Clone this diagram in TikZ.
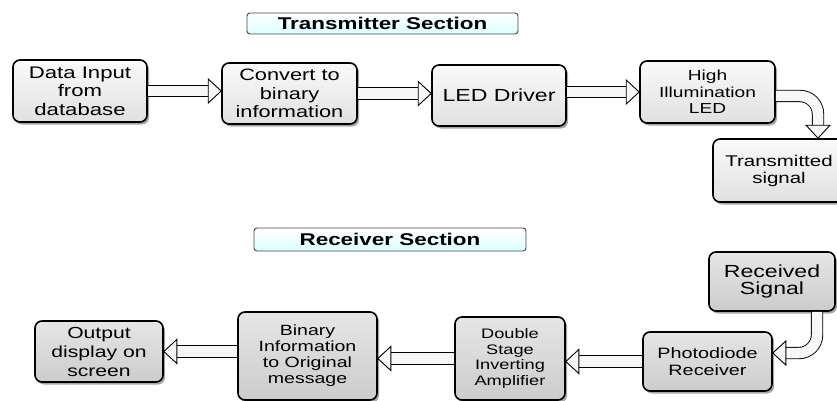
\documentclass[tikz,border=0pt]{standalone}
\usepackage{fontspec}
\setmainfont{Liberation Sans}[FakeStretch=1.32]
\usetikzlibrary{shadows,calc}
\newcommand\fz[2]{\fontsize{#1}{#2}\selectfont}
\tikzset{
  x=1pt,y=1pt,
  txbox/.style={draw=black, line width=1.6pt, rounded corners=7pt,
    top color=gray!4, bottom color=gray!24, align=center, inner sep=0pt,
    drop shadow={shadow xshift=2pt, shadow yshift=-2.5pt, fill=black, opacity=0.35}},
  rxbox/.style={txbox, top color=gray!20, bottom color=gray!40},
  hdrbox/.style={draw=gray!55!black, line width=0.9pt, rounded corners=3pt,
    top color=white, bottom color=cyan!14, inner sep=0pt, font=\bfseries\fz{17}{19}},
  shaft/.style={line width=0.9pt, draw=black, double=gray!6, double distance=10.5pt, line join=round},
  ahead/.pic={\draw[line width=0.9pt, fill=gray!6, line join=miter] (0,0) -- (-13,12) -- (-13,-12) -- cycle;}
}
\newcommand\barrow[3]{%
  \coordinate (#1base) at ($(#2)!13pt!(#1)$);
  \draw[shaft] (#1) -- (#1base);
  \pic[rotate=#3] at (#2) {ahead};}
\begin{document}
\begin{tikzpicture}
\useasboundingbox (0,0) rectangle (837,-401);
\fill[white] (0,0) rectangle (837,-401);
% headers
\node[hdrbox, minimum width=271, minimum height=21] (h1) at (382.5,-23.5) {Transmitter Section};
\node[hdrbox, minimum width=272, minimum height=23] (h2) at (390,-239.5) {Receiver Section};
% transmitter
\node[txbox, minimum width=134, minimum height=62, font=\fz{16.8}{18.5}] (din) at (80,-91) {Data Input\\from\\database};
\node[txbox, minimum width=135, minimum height=61, font=\fz{16.5}{18.5}] (conv) at (289.5,-93.5) {Convert to\\binary\\information};
\node[txbox, minimum width=134, minimum height=61, font=\fz{17.5}{20}] (led) at (499,-95.5) {LED Driver};
\node[txbox, minimum width=135, minimum height=62, font=\fz{14.5}{16.5}] (hil) at (707.5,-92) {High\\Illumination\\LED};
\node[txbox, minimum width=132, minimum height=63, font=\fz{15.5}{17}] (tx) at (779,-170.5) {Transmitted\\signal};
% receiver
\node[rxbox, minimum width=126, minimum height=59, font=\fz{17.5}{17}] (rx) at (772,-281.5) {Received\\Signal};
\node[rxbox, minimum width=129, minimum height=59, font=\fz{15}{16.7}] (pd) at (707.5,-361.5) {Photodiode\\Receiver};
\node[rxbox, minimum width=110, minimum height=83, font=\fz{13.8}{15.7}] (ds) at (510,-358.5) {Double\\Stage\\Inverting\\Amplifier};
\node[rxbox, minimum width=139, minimum height=88, font=\fz{14.8}{16}] (bin) at (307.5,-356) {Binary\\Information\\to Original\\message};
\node[rxbox, minimum width=128, minimum height=61, font=\fz{16}{19}] (out) at (99,-351.5) {Output\\display on\\screen};
% straight arrows
\coordinate (a1s) at (din.east); \coordinate (a1e) at (conv.west |- din.east);
\coordinate (a2s) at (conv.east); \coordinate (a2e) at (led.west |- conv.east);
\coordinate (a3s) at (led.east |- hil.west); \coordinate (a3e) at (hil.west);
\coordinate (a4s) at (pd.west); \coordinate (a4e) at (ds.east |- pd.west);
\coordinate (a5s) at (ds.west); \coordinate (a5e) at (bin.east |- ds.west);
\coordinate (a6s) at (bin.west |- out.east); \coordinate (a6e) at (out.east);
\barrow{a1s}{a1e}{0}
\barrow{a2s}{a2e}{0}
\barrow{a3s}{a3e}{0}
\barrow{a4s}{a4e}{180}
\barrow{a5s}{a5e}{180}
\barrow{a6s}{a6e}{180}
% curved arrows
\coordinate (c1s) at ($(hil.east)+(0,-4)$);
\coordinate (c1e) at ($(tx.north)+(39,0)$);
\coordinate (c1b) at ($(c1e)+(0,13)$);
\draw[shaft, rounded corners=18pt] (c1s) -| (c1b);
\pic[rotate=-90] at (c1e) {ahead};
\coordinate (c2s) at ($(rx.south)+(45,0)$);
\coordinate (c2e) at ($(pd.east)+(0,8.5)$);
\coordinate (c2b) at ($(c2e)+(13,0)$);
\draw[shaft, rounded corners=18pt] (c2s) |- (c2b);
\pic[rotate=180] at (c2e) {ahead};
\end{tikzpicture}
\end{document}
